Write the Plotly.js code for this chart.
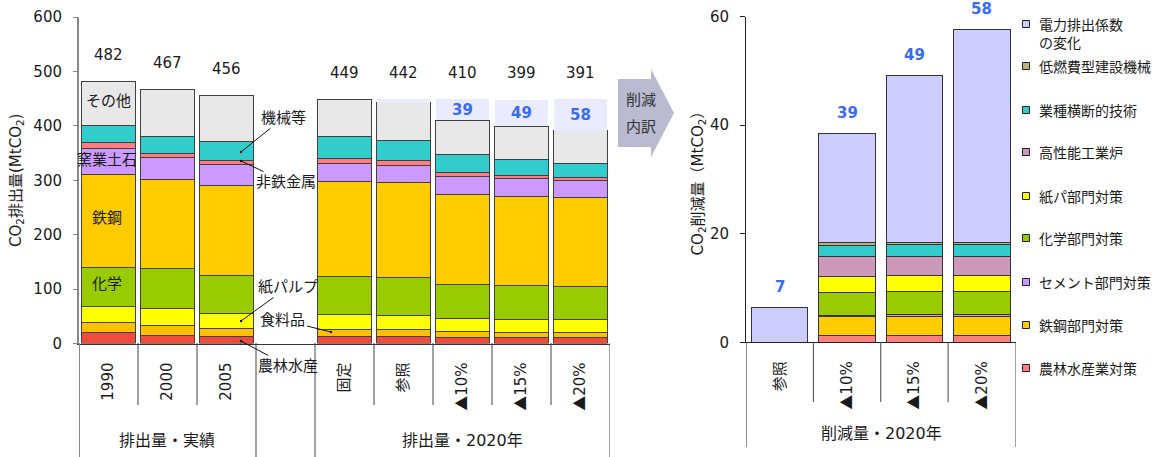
<!DOCTYPE html>
<html>
<head>
<meta charset="utf-8">
<script src="https://cdn.plot.ly/plotly-3.0.1.min.js"></script>
<style>html,body{margin:0;padding:0;background:#fff;}#chart{width:1159px;height:457px;}</style>
</head>
<body>
<div id="chart"></div>
<script>
// ---------- data: left chart (emissions, MtCO2) ----------
const leftCats = ['1990', '2000', '2005', ' ', '固定', '参照', '▲10%', '▲15%', '▲20%'];
const agri       = [20, 15, 12.5, null, 12.5, 12.5, 11.5, 11.5, 11.5];
const food       = [19, 18, 15.5, null, 12.5, 12.5, 10, 8.5, 8.5];
const pulp       = [29, 32, 27.5, null, 29, 27, 24, 24.5, 24.5];
const chem       = [72, 72, 69, null, 69, 69, 63, 62.5, 61];
const steel      = [171, 164, 166, null, 174, 174, 166, 163.5, 162];
const ceramic    = [47, 41, 39, null, 33.5, 32, 32, 33, 32.5];
const nonferrous = [11, 8, 6.5, null, 9.5, 9, 8, 5.5, 5.5];
const machinery  = [32, 30, 34.5, null, 41, 37, 33, 29, 25];
const other      = [81, 87, 85.5, null, 68, 69, 62.5, 61, 60.5];
const totals     = [482, 467, 456, null, 449, 442, 410, 399, 391];
const reductionLeft   = [null, null, null, null, null, 7, 39, 49, 58];
const reductionLabels = ['', '', '', '', '', '', '39', '49', '58'];

// ---------- data: right chart (reductions, MtCO2) ----------
const rightCats = ['参照', '▲10%', '▲15%', '▲20%'];
const rAgri    = [null, 1.2, 1.2, 1.2];
const rSteel   = [null, 3.5, 3.5, 3.5];
const rCement  = [null, 0.3, 0.4, 0.4];
const rChem    = [null, 4.2, 4.2, 4.2];
const rPulp    = [null, 3.0, 2.95, 2.95];
const rFurnace = [null, 3.6, 3.6, 3.6];
const rCross   = [null, 2.1, 2.1, 2.1];
const rMachine = [null, 0.4, 0.4, 0.4];
const rPower   = [6.5, 20.2, 30.9, 39.3];
const rTotals  = [7, 39, 49, 58];
const rightNames = ['農林水産業対策', '鉄鋼部門対策', 'セメント部門対策', '化学部門対策', '紙パ部門対策',
                    '高性能工業炉', '業種横断的技術', '低燃費型建設機械', '電力排出係数<br>の変化'];

// ---------- styles ----------
const W = 1159, H = 457;
const px = x => x / W;
const py = y => 1 - y / H;
const FONT = 'DejaVu Sans, Noto Sans CJK JP, sans-serif';
const CJK = 'Noto Sans CJK JP';
const TXT = '#1a1a1a';
const tri = s => s.replace('▲', '<span style="font-family:' + CJK + '">▲</span>');

const leftSeries = [
  {name: '農林水産', y: agri, color: '#F04B3C'},
  {name: '食料品', y: food, color: '#FFC000'},
  {name: '紙パルプ', y: pulp, color: '#FFFF00'},
  {name: '化学', y: chem, color: '#99CC00'},
  {name: '鉄鋼', y: steel, color: '#FFCC00'},
  {name: '窯業土石', y: ceramic, color: '#CC99FF'},
  {name: '非鉄金属', y: nonferrous, color: '#FF7C80'},
  {name: '機械等', y: machinery, color: '#33CCCC'},
  {name: 'その他', y: other, color: '#E8E8E8'}
];
const rightSeries = [rAgri, rSteel, rCement, rChem, rPulp, rFurnace, rCross, rMachine, rPower];
const rightColors = ['#FF8080', '#FFCC00', '#CC99FF', '#99CC00', '#FFFF00', '#CC99BB', '#33CCCC', '#B5B580', '#CCCCFF'];

const traces = [];
leftSeries.forEach(s => traces.push({
  type: 'bar', x: leftCats, y: s.y, name: s.name, xaxis: 'x', yaxis: 'y',
  marker: {color: s.color, line: {color: '#404040', width: 1}}
}));
traces.push({
  type: 'bar', x: leftCats, y: reductionLeft, name: '削減量', xaxis: 'x', yaxis: 'y',
  marker: {color: '#EBEBFF', line: {width: 0}}
});
rightSeries.forEach((arr, i) => traces.push({
  type: 'bar', x: rightCats, y: arr, name: rightNames[i].replace('<br>', ''), xaxis: 'x2', yaxis: 'y2',
  width: 0.84,
  marker: {color: rightColors[i], line: {color: '#333', width: 1}}
}));

const annotations = [];
const shapes = [];
const note = (x, y, text, size, extra) => annotations.push(Object.assign({
  xref: 'paper', yref: 'paper', x: px(x), y: py(y), xanchor: 'center', yanchor: 'middle',
  text: text, showarrow: false, font: {family: FONT, size: size || 15, color: TXT}}, extra || {}));

// total labels (left) – category index positions
totals.forEach((t, i) => {
  if (t === null) return;
  annotations.push({xref: 'x', yref: 'y', x: i, y: i < 3 ? t + 48 : 497, xanchor: 'center', yanchor: 'middle',
    text: String(t), showarrow: false, font: {family: FONT, size: 15, color: TXT}});
});
// reduction labels inside lavender boxes (left)
reductionLabels.forEach((lab, i) => {
  if (!lab) return;
  annotations.push({xref: 'x', yref: 'y', x: i, y: totals[i] + reductionLeft[i] / 2, xanchor: 'center', yanchor: 'middle',
    text: '<b>' + lab + '</b>', showarrow: false, font: {family: FONT, size: 15, color: '#3A6BF5'}});
});
// totals (right)
rTotals.forEach((t, i) => {
  const top = rightSeries.reduce((s, a) => s + (a[i] || 0), 0);
  annotations.push({xref: 'x2', yref: 'y2', x: i, y: top, yshift: 20, xanchor: 'center', yanchor: 'middle',
    text: '<b>' + t + '</b>', showarrow: false, font: {family: FONT, size: 15, color: '#3A6BF5'}});
});

// in-bar sector labels
note(108, 101, 'その他'); note(107, 160, '窯業土石'); note(107, 218, '鉄鋼'); note(107, 284, '化学');
// callouts with leader lines [text, pointX, pointY, textX, textY]
[['機械等', 241, 152, 283, 118], ['非鉄金属', 241, 161, 286, 182], ['紙パルプ', 241, 321, 288, 287],
 ['食料品', 331, 332, 283, 320], ['農林水産', 241, 341, 288, 366]].forEach(a => {
  annotations.push({xref: 'paper', yref: 'paper', x: px(a[1]), y: py(a[2]), ax: a[3] - a[1], ay: a[4] - a[2],
    text: a[0], showarrow: true, arrowhead: 6, arrowsize: 0.6, arrowwidth: 1, arrowcolor: '#111',
    font: {family: FONT, size: 15, color: TXT}});
});

// group labels
note(167, 440, '排出量・実績', 16);
note(462, 440, '排出量・2020年', 16);
note(881, 433, '削減量・2020年', 16);

// separators left chart
const lineDark = {color: '#444', width: 1};
for (let i = 0; i < leftCats.length - 1; i++) {
  const longLine = (i === 2 || i === 3);
  shapes.push({type: 'line', xref: 'x', yref: 'paper', x0: i + 0.5, x1: i + 0.5,
    y0: py(343), y1: py(longLine ? 457 : 405), line: lineDark});
}
shapes.push({type: 'line', xref: 'x', yref: 'paper', x0: -0.5, x1: -0.5, y0: py(343), y1: py(457), line: {color: '#888', width: 2}});
shapes.push({type: 'line', xref: 'x', yref: 'paper', x0: 8.5, x1: 8.5, y0: py(343), y1: py(457), line: lineDark});
// separators right chart
for (let i = 0; i < rightCats.length - 1; i++) {
  shapes.push({type: 'line', xref: 'x2', yref: 'paper', x0: i + 0.5, x1: i + 0.5, y0: py(342), y1: py(402), line: lineDark});
}
shapes.push({type: 'line', xref: 'x2', yref: 'paper', x0: -0.5, x1: -0.5, y0: py(342), y1: py(447), line: {color: '#222', width: 1}});
shapes.push({type: 'line', xref: 'x2', yref: 'paper', x0: 3.5, x1: 3.5, y0: py(342), y1: py(447), line: lineDark});

// arrow "削減内訳"
const arrowPts = [[618, 79], [651, 79], [651, 69], [674, 113], [651, 157], [651, 147], [618, 147]];
shapes.push({type: 'path', xref: 'paper', yref: 'paper', fillcolor: '#BABAD0', line: {width: 0},
  path: 'M' + arrowPts.map(p => px(p[0]) + ',' + py(p[1])).join(' L') + ' Z'});
note(641, 100, '削減', 15, {font: {family: FONT, size: 15, color: '#333'}});
note(641, 127, '内訳', 15, {font: {family: FONT, size: 15, color: '#333'}});

// manual legend (right)
const legendY = [368, 325, 282, 238, 196, 152, 110, 66, 24];
rightNames.forEach((n, i) => {
  const yc = legendY[i];
  shapes.push({type: 'rect', xref: 'paper', yref: 'paper', x0: px(1022.5), x1: px(1029.5), y0: py(yc + 3.5), y1: py(yc - 3.5),
    fillcolor: rightColors[i], line: {color: '#222', width: 1}});
  annotations.push({xref: 'paper', yref: 'paper', x: px(1037), y: py(yc - 9), xanchor: 'left', yanchor: 'top', align: 'left',
    text: n, showarrow: false, font: {family: FONT, size: 14, color: TXT}});
});

const layout = {
  width: W, height: H,
  margin: {l: 0, r: 0, t: 0, b: 0},
  paper_bgcolor: '#fff', plot_bgcolor: 'rgba(0,0,0,0)',
  barmode: 'stack', bargap: 0.085,
  showlegend: false,
  font: {family: FONT, size: 15, color: TXT},
  xaxis: {domain: [px(79), px(610)], anchor: 'y', type: 'category', range: [-0.5, 8.5],
    tickmode: 'array', tickvals: leftCats.map((c, i) => i), ticktext: leftCats.map(tri),
    showline: true, linecolor: '#333', linewidth: 1, ticks: '', tickangle: -90, ticklabelstandoff: 12,
    tickfont: {family: FONT, size: 15, color: TXT}, showgrid: false, zeroline: false},
  yaxis: {domain: [py(343.5), py(17)], anchor: 'x', range: [0, 600], dtick: 100,
    showline: true, linecolor: '#888', linewidth: 2, ticks: 'outside', ticklen: 4, tickcolor: '#888',
    ticklabelstandoff: 8, showgrid: false, zeroline: false,
    tickfont: {family: FONT, size: 15, color: TXT},
    title: {text: 'CO<sub>2</sub>排出量(MtCO<sub>2</sub>)', font: {family: FONT, size: 15, color: TXT}, standoff: 8}},
  xaxis2: {domain: [px(746), px(1015.5)], anchor: 'y2', type: 'category', range: [-0.5, 3.5],
    tickmode: 'array', tickvals: rightCats.map((c, i) => i), ticktext: rightCats.map(tri),
    showline: true, linecolor: '#222', linewidth: 1, ticks: '', tickangle: -90, ticklabelstandoff: 12,
    tickfont: {family: FONT, size: 15, color: TXT}, showgrid: false, zeroline: false},
  yaxis2: {domain: [py(342.3), py(16.7)], anchor: 'x2', range: [0, 60], dtick: 20,
    showline: true, linecolor: '#222', linewidth: 1, ticks: 'outside', ticklen: 5, tickcolor: '#222',
    ticklabelstandoff: 8, showgrid: false, zeroline: false,
    tickfont: {family: FONT, size: 15, color: TXT},
    title: {text: 'CO<sub>2</sub>削減量（MtCO<sub>2</sub>）', font: {family: FONT, size: 15, color: TXT}, standoff: 2}},
  annotations: annotations,
  shapes: shapes
};

Plotly.newPlot('chart', traces, layout, {displayModeBar: false, staticPlot: true});
</script>
</body>
</html>
